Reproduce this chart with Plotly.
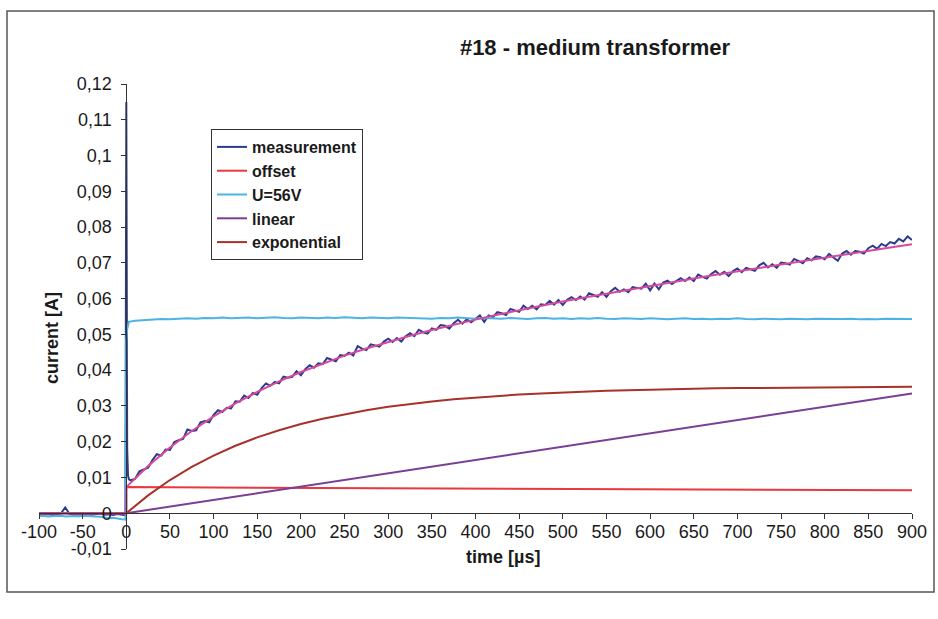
import plotly.graph_objects as go

# ---------------- data (currents in mA, times in µs) ----------------
t_pre = list(range(-100, 0, 5))
t_spike = [-1, 0, 0.5, 1, 2, 3]
t_post = list(range(5, 905, 5))

meas_pre_mA = [-0.3, -0.4, -0.2, -0.5, -0.3, -0.1, 1.6, -0.2, -0.4, -0.3,
               -0.5, -0.2, -0.4, -0.3, -0.1, -0.4, -0.3, -0.5, -0.2, -0.4]
meas_spike_mA = [-0.5, 115.0, 60.0, 18.0, 10.5, 9.5]
meas_post_mA = [
    9.2, 9.6, 11.7, 12.3, 12.7, 14.9, 16.5, 16.1, 17.8, 17.7,
    19.9, 20.4, 20.8, 23.4, 23.0, 23.2, 25.4, 25.8, 25.4, 27.5,
    28.8, 28.3, 29.5, 29.3, 31.3, 31.2, 32.9, 32.2, 33.6, 33.1,
    35.0, 36.3, 35.6, 36.7, 36.3, 38.2, 37.9, 38.1, 39.7, 38.6,
    40.3, 41.4, 40.7, 41.9, 41.7, 43.4, 43.0, 42.5, 44.2, 44.0,
    44.9, 44.1, 46.7, 46.0, 45.6, 47.2, 46.9, 46.6, 48.0, 48.8,
    47.9, 49.0, 48.0, 49.5, 50.3, 49.5, 51.3, 50.6, 50.2, 51.7,
    51.3, 52.6, 52.4, 51.6, 53.1, 54.1, 53.0, 54.2, 53.4, 54.3,
    55.3, 53.5, 55.3, 54.8, 56.2, 55.9, 55.4, 57.1, 56.8, 56.3,
    58.0, 57.1, 58.0, 57.0, 58.4, 58.2, 59.4, 58.3, 59.6, 58.2,
    59.7, 60.4, 59.6, 60.6, 59.7, 61.5, 61.0, 60.5, 61.8, 60.5,
    62.1, 63.0, 61.9, 62.6, 61.8, 63.2, 63.0, 62.8, 64.2, 62.3,
    64.2, 62.6, 64.5, 65.0, 64.1, 65.0, 65.7, 64.9, 65.9, 64.9,
    66.7, 66.1, 65.6, 66.9, 67.7, 66.7, 67.5, 66.3, 67.7, 68.4,
    67.4, 68.6, 68.2, 67.8, 69.3, 70.0, 68.7, 69.6, 68.6, 70.1,
    69.9, 69.5, 71.1, 70.6, 69.9, 71.3, 70.7, 71.8, 71.6, 71.0,
    72.5, 71.5, 70.6, 72.6, 73.3, 72.3, 73.3, 73.1, 72.6, 74.1,
    74.8, 73.9, 75.3, 74.7, 75.8, 75.4, 76.7, 76.0, 77.4, 76.4,
]

# U = 56 V reference trace
t_u_pre = list(range(-100, 0, 5))
t_u_spike = [-1, 0, 1, 2, 3]
t_u_post = list(range(10, 910, 10))
u_pre_mA = [-0.8, -0.7, -0.9, -0.8, -0.8, -0.7, -0.9, -0.8, -0.8, -0.9,
            -0.7, -0.8, -0.8, -0.9, -1.0, -1.2, -1.4, -1.3, -1.6, -1.7]
u_spike_mA = [-1.8, 48.0, 51.5, 53.0, 53.5]
u_post_mA = [
    53.8, 54.0, 54.1, 54.3, 54.2, 54.4, 54.5, 54.4, 54.6, 54.5,
    54.7, 54.5, 54.6, 54.7, 54.5, 54.6, 54.8, 54.6, 54.5, 54.7,
    54.6, 54.5, 54.7, 54.6, 54.8, 54.6, 54.5, 54.7, 54.6, 54.5,
    54.7, 54.6, 54.5, 54.6, 54.4, 54.6, 54.5, 54.7, 54.5, 54.4,
    54.6, 54.5, 54.4, 54.6, 54.5, 54.3, 54.5, 54.6, 54.4, 54.5,
    54.3, 54.5, 54.4, 54.6, 54.4, 54.3, 54.5, 54.4, 54.3, 54.5,
    54.4, 54.2, 54.4, 54.5, 54.3, 54.4, 54.2, 54.4, 54.3, 54.5,
    54.3, 54.2, 54.4, 54.3, 54.2, 54.4, 54.3, 54.2, 54.4, 54.3,
    54.2, 54.3, 54.4, 54.2, 54.3, 54.2, 54.4, 54.3, 54.2, 54.3,
]

# model components
t_offset = [-100, 0, 0, 900]
offset_mA = [0.0, 0.0, 7.3, 6.4]
t_linear = [-100, 0, 900]
linear_mA = [0.0, 0.0, 33.5]
t_model = [-100, 0] + list(range(0, 925, 25))
exponential_mA = [0.0, 0.0,
    0.0, 4.99, 9.28, 12.96, 16.13, 18.86, 21.20, 23.21, 24.94, 26.42,
    27.70, 28.79, 29.74, 30.55, 31.24, 31.84, 32.35, 32.80, 33.18, 33.50,
    33.79, 34.03, 34.23, 34.41, 34.57, 34.70, 34.81, 34.91, 34.99, 35.06,
    35.12, 35.18, 35.22, 35.26, 35.29, 35.32, 35.35]
fit_mA = [0.0, 0.0,
    7.30, 13.20, 18.39, 22.98, 27.05, 30.69, 33.93, 36.85, 39.48, 41.87,
    44.05, 46.05, 47.90, 49.62, 51.21, 52.72, 54.13, 55.49, 56.77, 58.00,
    59.19, 60.34, 61.44, 62.53, 63.59, 64.63, 65.64, 66.65, 67.63, 68.61,
    69.57, 70.54, 71.48, 72.43, 73.36, 74.30, 75.23]

x_ticks = list(range(-100, 950, 50))
x_tick_labels = [str(v) for v in x_ticks]
y_ticks = [-0.01, 0, 0.01, 0.02, 0.03, 0.04, 0.05, 0.06, 0.07, 0.08, 0.09, 0.1, 0.11, 0.12]
y_tick_labels = ["-0,01", "0", "0,01", "0,02", "0,03", "0,04", "0,05", "0,06",
                 "0,07", "0,08", "0,09", "0,1", "0,11", "0,12"]
x_range = [-100, 900]
y_range = [-0.01, 0.12]

def to_A(vals):
    return [v / 1000.0 for v in vals]

# ---------------- figure ----------------
FONT = "Liberation Sans, Arial, sans-serif"
TXT = "#1a1a1a"
fig = go.Figure()
fig.add_trace(go.Scatter(x=t_pre + t_spike + t_post,
                         y=to_A(meas_pre_mA + meas_spike_mA + meas_post_mA),
                         mode="lines", name="measurement",
                         line=dict(color="#2B3C8E", width=2)))
fig.add_trace(go.Scatter(x=t_offset, y=to_A(offset_mA), mode="lines", name="offset",
                         line=dict(color="#E8393F", width=2)))
fig.add_trace(go.Scatter(x=t_u_pre + t_u_spike + t_u_post,
                         y=to_A(u_pre_mA + u_spike_mA + u_post_mA),
                         mode="lines", name="U=56V",
                         line=dict(color="#4CB4E4", width=2)))
fig.add_trace(go.Scatter(x=t_linear, y=to_A(linear_mA), mode="lines", name="linear",
                         line=dict(color="#7A3E96", width=2)))
fig.add_trace(go.Scatter(x=t_model, y=to_A(exponential_mA), mode="lines", name="exponential",
                         line=dict(color="#A8322A", width=2)))
fig.add_trace(go.Scatter(x=t_model, y=to_A(fit_mA), mode="lines", name="fit",
                         showlegend=False, line=dict(color="#D8489C", width=2)))

L, R, T, B = 39, 26, 84, 70
W, H = 938, 619
pw, ph = W - L - R, H - T - B

def px_x(px):
    return (px - L) / pw

def px_y(py):
    return (H - B - py) / ph

y_axis_pos = (0 - x_range[0]) / (x_range[1] - x_range[0])
x_axis_pos = (0 - y_range[0]) / (y_range[1] - y_range[0])

fig.update_layout(
    width=W, height=H,
    margin=dict(l=L, r=R, t=T, b=B),
    paper_bgcolor="white", plot_bgcolor="white",
    font=dict(family=FONT, color=TXT),
    title=dict(text="#18 - medium transformer", x=595 / W, xanchor="center",
               y=1 - 47 / H, yanchor="middle",
               font=dict(size=22, weight="bold", color=TXT)),
    legend=dict(x=px_x(211), y=px_y(129), xanchor="left", yanchor="top",
                bgcolor="white", bordercolor="#333", borderwidth=1,
                font=dict(size=16, weight="bold", color=TXT),
                tracegroupgap=0),
    shapes=[dict(type="rect", xref="paper", yref="paper",
                 x0=px_x(7), x1=px_x(934), y0=px_y(592), y1=px_y(11),
                 line=dict(color="#555", width=1.5), layer="below")],
    annotations=[
        dict(text="time [µs]", xref="paper", yref="paper",
             x=px_x(503), y=px_y(557), xanchor="center", yanchor="middle",
             showarrow=False, font=dict(size=18, weight="bold", color=TXT)),
        dict(text="current [A]", xref="paper", yref="paper", textangle=-90,
             x=px_x(52), y=px_y(338), xanchor="center", yanchor="middle",
             showarrow=False, font=dict(size=18, weight="bold", color=TXT)),
    ],
)
fig.update_xaxes(range=x_range, anchor="free", position=x_axis_pos,
                 showline=True, linecolor="#333", linewidth=1,
                 ticks="outside", ticklen=5, tickcolor="#333",
                 tickvals=x_ticks, ticktext=x_tick_labels,
                 tickfont=dict(size=18, color=TXT), ticklabelstandoff=-3,
                 showgrid=False, zeroline=False, automargin=False)
fig.update_yaxes(range=y_range, anchor="free", position=y_axis_pos,
                 showline=True, linecolor="#333", linewidth=1,
                 ticks="outside", ticklen=5, tickcolor="#333",
                 tickvals=y_ticks, ticktext=y_tick_labels,
                 tickfont=dict(size=18, color=TXT), ticklabelstandoff=6,
                 showgrid=False, zeroline=False, automargin=False)

fig.write_html("out.html")
